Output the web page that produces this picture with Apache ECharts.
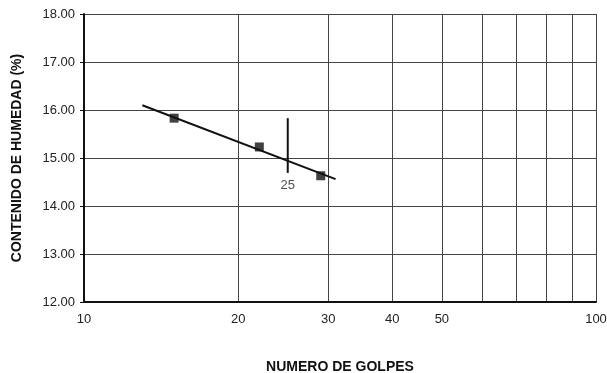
<!DOCTYPE html>
<html><head><meta charset="utf-8">
<script src="https://cdn.jsdelivr.net/npm/echarts@6/dist/echarts.min.js"></script>
<style>html,body{margin:0;padding:0;background:#fff}#c{width:607px;height:373px}</style>
</head><body><div id="c"></div>
<script>
const golpes = [15, 22, 29];
const humedad = [15.83, 15.23, 14.63];
const trendX = [13, 31];
const trendY = [16.10, 14.56];
const refX = 25;
const refY = [15.83, 14.69];
const xGridValues = [10, 20, 30, 40, 50, 60, 70, 80, 90, 100];
const xLabelValues = [10, 20, 30, 40, 50, 100];
const yTicks = [12, 13, 14, 15, 16, 17, 18];

const font = 'Liberation Sans, Arial, sans-serif';
const chart = echarts.init(document.getElementById('c'));
chart.setOption({
  backgroundColor: '#fff',
  animation: false,
  grid: { left: 84, right: 11, top: 14, bottom: 71, outerBoundsMode: 'none', containLabel: false },
  xAxis: {
    type: 'log', logBase: 10, min: 10, max: 100,
    name: 'NUMERO DE GOLPES', nameLocation: 'middle', nameGap: 58,
    nameTextStyle: { fontFamily: font, fontWeight: 'bold', fontSize: 14, color: '#111' },
    axisLine: { show: true, onZero: false, lineStyle: { color: '#111', width: 2 } },
    axisTick: { show: false, customValues: xGridValues },
    axisLabel: { customValues: xLabelValues, fontFamily: font, fontSize: 13, color: '#222', margin: 11 },
    splitLine: { show: true, lineStyle: { color: '#444', width: 1 } }
  },
  yAxis: {
    type: 'value', min: yTicks[0], max: yTicks[yTicks.length - 1], interval: 1,
    name: 'CONTENIDO DE HUMEDAD (%)', nameLocation: 'middle', nameGap: 60,
    nameTextStyle: { fontFamily: font, fontWeight: 'bold', fontSize: 14, color: '#111' },
    axisLine: { show: true, lineStyle: { color: '#111', width: 2 } },
    axisTick: { show: true, length: 4, lineStyle: { color: '#111' } },
    axisLabel: { fontFamily: font, fontSize: 13, color: '#222', margin: 9, formatter: v => v.toFixed(2) },
    splitLine: { show: true, lineStyle: { color: '#444', width: 1 } }
  },
  series: [
    {
      type: 'line', data: trendX.map((x, i) => [x, trendY[i]]),
      symbol: 'none', lineStyle: { color: '#111', width: 2 }, z: 3
    },
    {
      type: 'line', data: refY.map(y => [refX, y]),
      symbol: 'none', lineStyle: { color: '#111', width: 2 }, z: 3
    },
    {
      type: 'scatter', data: [[refX, refY[1]]], symbolSize: 0,
      label: { show: true, position: 'bottom', distance: 6, formatter: String(refX),
        fontFamily: font, fontSize: 13, color: '#222' }
    },
    {
      type: 'scatter', data: golpes.map((x, i) => [x, humedad[i]]),
      symbol: 'rect', symbolSize: 9, itemStyle: { color: '#111' }, z: 4
    }
  ]
});
</script></body></html>
